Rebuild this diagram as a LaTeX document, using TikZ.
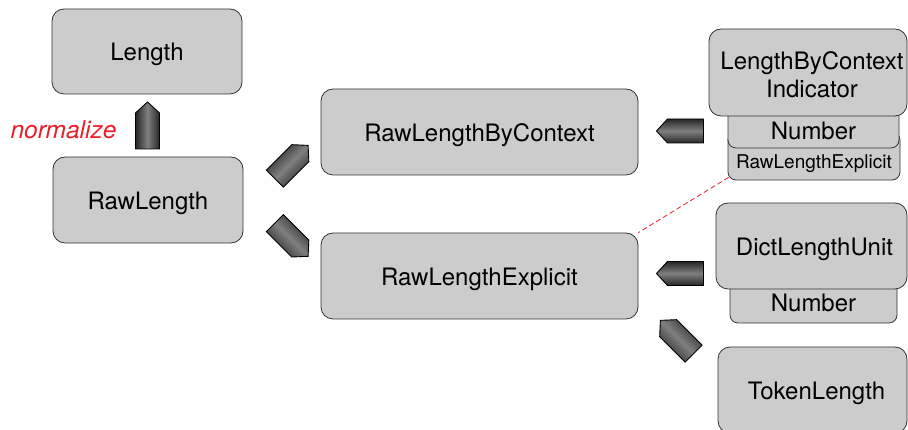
\documentclass[tikz,border=0pt]{standalone}
\usepackage{fontspec}
\setmainfont{TeX Gyre Heros}
\definecolor{boxgray}{HTML}{CCCCCC}
\definecolor{normred}{RGB}{232,30,40}
\tikzset{
  bigbox/.style={draw=black!80, fill=boxgray, rounded corners=12pt, line width=0.8pt,
    inner sep=0pt, font=\fontsize{24}{28}\selectfont, align=center,
    text height=19pt, text depth=0pt},
  subbox/.style={draw=black!80, fill=boxgray, rounded corners=8pt, line width=0.8pt,
    inner sep=0pt},
  fatarr/.style={draw=black, line width=0.9pt, top color=black!85, bottom color=black!85,
    middle color=black!50},
  linkline/.style={draw=normred, dash pattern=on 5pt off 3pt, line width=0.8pt}
}
\newcommand{\blockarrow}[2]{% center, angle
  \begin{scope}[shift={#1}, rotate=#2]
    \path[fatarr, shading angle=#2] (-23.5,-12) -- (12.5,-12) -- (23.5,0) -- (12.5,12) -- (-23.5,12) -- cycle;
  \end{scope}}
\begin{document}
\begin{tikzpicture}[x=1pt,y=1pt]
\useasboundingbox (0,0) rectangle (908,430);
\clip (0,0) rectangle (908,430);

% left column
\node[bigbox, minimum width=190, minimum height=85] (length) at (147,378.5) {Length};
\node[bigbox, minimum width=190, minimum height=86] (rawlength) at (148,230) {RawLength};
\node[font=\itshape\fontsize{24.5}{28}\selectfont, text=normred] (norm) at (63.5,300) {normalize};

% middle column
\node[bigbox, minimum width=317, minimum height=86] (rlbc) at (479.5,298) {RawLengthByContext};
\node[bigbox, minimum width=317, minimum height=86] (rle) at (479.5,154) {RawLengthExplicit};

% right column, top stack
\node[subbox, minimum width=172, minimum height=48,
  label={[yshift=-8pt, font=\fontsize{19}{22}\selectfont]center:RawLengthExplicit}] (rlesmall) at (814,274) {};
\node[subbox, minimum width=171, minimum height=48,
  label={[yshift=-7pt, font=\fontsize{24}{28}\selectfont]center:Number}] (num1) at (813.5,306) {};
\node[bigbox, minimum width=198, minimum height=87, text height=51pt] (lbci) at (808,357.5) {\hspace*{8pt}LengthByContext\\\hspace*{8pt}Indicator};

% right column, middle stack
\node[subbox, minimum width=167, minimum height=52,
  label={[yshift=-6pt, font=\fontsize{24}{28}\selectfont]center:Number}] (num2) at (813.5,133) {};
\node[bigbox, minimum width=191, minimum height=86] (dlu) at (811.5,184) {\hspace*{6pt}DictLengthUnit};

% right column, bottom
\node[bigbox, minimum width=189, minimum height=86] (token) at (812.5,40) {\hspace*{8pt}TokenLength};

% dashed link
\draw[linkline] (rlesmall.south west) ++(1,3) coordinate (linkstart) (linkstart) -- (rle.north east);

% block arrows
\blockarrow{(147.5,304.5)}{90}
\blockarrow{(291.5,268)}{45}
\blockarrow{(291.5,190.3)}{-45}
\blockarrow{(680,299)}{180}
\blockarrow{(680,156.5)}{180}
\blockarrow{(677,93)}{135}
\end{tikzpicture}
\end{document}
